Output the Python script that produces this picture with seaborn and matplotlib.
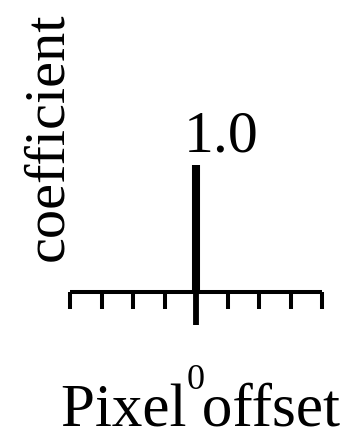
import matplotlib
matplotlib.use("Agg")
import matplotlib.pyplot as plt
import seaborn as sns
import pandas as pd

# -----------------------------------------------------
# DATA
# -----------------------------------------------------
offsets = [-4, -3, -2, -1, 0, 1, 2, 3, 4]
coefficients = [0.0, 0.0, 0.0, 0.0, 1.0, 0.0, 0.0, 0.0, 0.0]
tick_labels = ["", "", "", "", "0", "", "", "", ""]

X_LABEL = "Pixel offset"
Y_LABEL = "coefficient"

# -----------------------------------------------------
# STYLE
# -----------------------------------------------------
sns.set_theme(style="ticks")
plt.rcParams["font.family"] = ["Liberation Serif", "DejaVu Serif"]

W, H = 351, 445
fig = plt.figure(figsize=(W / 100, H / 100), dpi=100)
# axes box in pixels: x 70..322, y 165 (value 1) .. 292 (value 0)
ax = fig.add_axes([70 / W, (H - 292) / H, 252 / W, 127 / H])

df = pd.DataFrame({"offset": offsets, "coef": coefficients})
nz = df[df["coef"] != 0]

ax.vlines(nz["offset"], 0, nz["coef"], colors="black", linewidth=5.8,
          capstyle="butt", clip_on=False, zorder=3)

for _, row in nz.iterrows():
    ax.annotate(f"{row['coef']:.1f}", xy=(row["offset"], row["coef"]),
                xytext=(-9, 10), textcoords="offset points",
                ha="left", va="baseline", fontsize=43, color="black",
                annotation_clip=False)

ax.set_xlim(min(offsets), max(offsets))
ax.set_ylim(0, 1)

sns.despine(ax=ax, left=True)
ax.spines["bottom"].set_linewidth(2.9)
ax.spines["bottom"].set_color("black")
ax.spines["bottom"].set_capstyle("butt")

ax.set_yticks([])
ax.set_xticks(offsets)
ax.set_xticklabels(tick_labels)
ax.tick_params(axis="x", direction="out", length=12, width=2.9,
               pad=40, labelsize=26, colors="black")

# longer, heavier tick at zero offset
for t, lab in zip(ax.xaxis.get_major_ticks(), tick_labels):
    if lab:
        t.tick1line.set_markersize(24)
        t.tick1line.set_markeredgewidth(4.2)

ax.set_xlabel(X_LABEL, fontsize=44, color="black")
ax.xaxis.label.set_va("baseline")
ax.xaxis.set_label_coords(0.516, -(426 - 292) / 127)

ax.set_ylabel(Y_LABEL, fontsize=42, color="black")
ax.yaxis.label.set_va("baseline")
ax.yaxis.set_label_coords((62 - 70) / 252, (292 - 137) / 127)

ax.patch.set_alpha(0)
fig.savefig("out.png", dpi=100, facecolor="white")
